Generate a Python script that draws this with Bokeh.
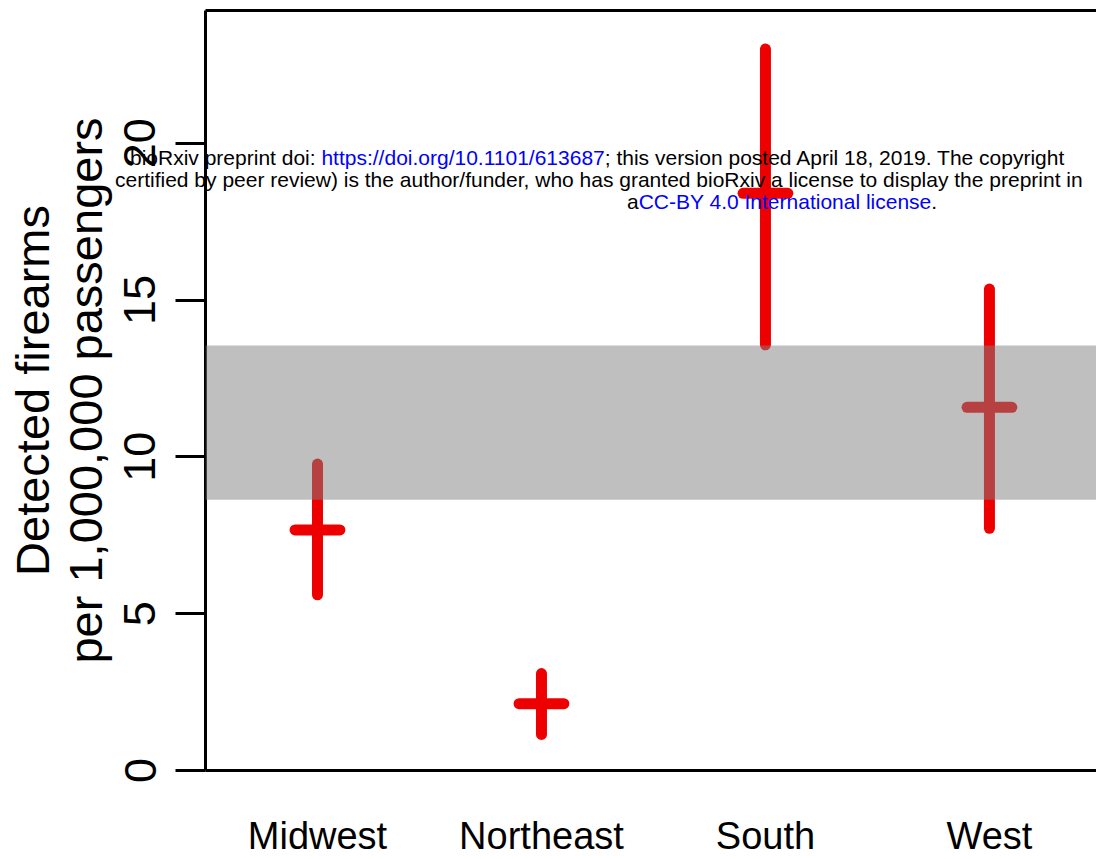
from bokeh.plotting import figure
from bokeh.layouts import column
from bokeh.models import (ColumnDataSource, FixedTicker, LinearAxis, Range1d,
                          BoxAnnotation, Div)
from bokeh.embed import file_html
from bokeh.resources import INLINE

# ---- data ----
regions = ["Midwest", "Northeast", "South", "West"]
positions = [1, 2, 3, 4]
rate = [7.67, 2.13, 18.4, 11.58]
lower = [5.6, 1.15, 13.57, 7.72]
upper = [9.77, 3.09, 23.0, 15.35]
band_low = 8.63
band_high = 13.55
y_ticks = [0, 5, 10, 15, 20]
y_title = "Detected firearms\nper 1,000,000 passengers"

header_line1 = [("bioRxiv preprint doi: ", "black"),
                ("https://doi.org/10.1101/613687", "blue"),
                ("; this version posted April 18, 2019. The copyright", "black")]
header_line2 = [("certified by peer review) is the author/funder, who has granted bioRxiv a license to display the preprint in", "black")]
header_line3 = [("a", "black"), ("CC-BY 4.0 International license", "blue"), (".", "black")]

# ---- style / layout constants ----
RED = "#ee0000"
FONT = "Liberation Sans"
W, H = 1096, 859
X0, X1 = 0.5, 4.478
Y0, Y1 = 0.0, 24.23
CROSS_HALF = 0.1

p = figure(width=W, height=H, output_backend="svg", toolbar_location=None,
           x_range=Range1d(X0, X1), y_range=Range1d(Y0, Y1),
           min_border_left=205, min_border_right=0, min_border_top=10,
           min_border_bottom=89)
p.outline_line_color = None
p.grid.visible = False
p.background_fill_color = "white"
p.border_fill_color = "white"

src = ColumnDataSource(dict(
    x=positions, lo=lower, hi=upper, m=rate,
    xl=[v - CROSS_HALF for v in positions],
    xr=[v + CROSS_HALF for v in positions],
))
p.segment(x0="x", y0="lo", x1="x", y1="hi", source=src,
          line_color=RED, line_width=11, line_cap="round")
p.segment(x0="xl", y0="m", x1="xr", y1="m", source=src,
          line_color=RED, line_width=11, line_cap="round")

# reference band drawn over the crosses
p.add_layout(BoxAnnotation(bottom=band_low, top=band_high,
                           fill_color="#808080", fill_alpha=0.5,
                           line_color=None))

# x axis
xa = p.xaxis[0]
xa.ticker = FixedTicker(ticks=positions)
xa.major_label_overrides = {k: v for k, v in zip(positions, regions)}
xa.major_tick_line_color = None
xa.major_tick_out = 0
xa.major_tick_in = 0
xa.minor_tick_line_color = None
xa.axis_line_width = 3
xa.axis_line_color = "black"
xa.major_label_text_font = FONT
xa.major_label_text_font_size = "38px"
xa.major_label_text_color = "black"
xa.major_label_standoff = 44

# y axis
ya = p.yaxis[0]
ya.ticker = FixedTicker(ticks=y_ticks)
ya.major_tick_out = 30
ya.major_tick_in = 0
ya.major_tick_line_width = 3
ya.major_tick_line_color = "black"
ya.minor_tick_line_color = None
ya.axis_line_width = 3
ya.axis_line_color = "black"
ya.major_label_orientation = "vertical"
ya.major_label_text_font = FONT
ya.major_label_text_font_size = "45px"
ya.major_label_text_color = "black"
ya.major_label_standoff = 20
ya.axis_label = y_title
ya.axis_label_text_font = FONT
ya.axis_label_text_font_size = "47px"
ya.axis_label_text_font_style = "normal"
ya.axis_label_text_color = "black"
ya.axis_label_text_line_height = 1.0
ya.axis_label_standoff = 10

# top border line
top = LinearAxis(ticker=FixedTicker(ticks=[]), axis_line_width=3,
                 axis_line_color="black", major_tick_out=0, major_tick_in=0,
                 minor_tick_out=0, minor_tick_in=0, major_label_standoff=0,
                 major_label_text_font_size="0px")
p.add_layout(top, "above")

# ---- header overlay (bioRxiv watermark), drawn on top of the chart ----
OV_LEFT, OV_TOP = 115, 147
OV_W, OV_H = W - OV_LEFT, 72


def runs(line):
    return "".join(f'<span style="color:{c}">{t}</span>' for t, c in line)


html = (
    f'<div style="font-family:\'{FONT}\';font-size:21px;line-height:22px;'
    f'white-space:nowrap;color:black;">'
    f'<div style="padding-left:15px">{runs(header_line1)}</div>'
    f'<div style="padding-left:0px">{runs(header_line2)}</div>'
    f'<div style="padding-left:512px">{runs(header_line3)}</div>'
    f'</div>'
)
ov = Div(text=html, width=OV_W, height=OV_H,
         styles={"position": "absolute", "left": f"{OV_LEFT}px",
                 "top": f"{OV_TOP}px", "z-index": "10",
                 "overflow": "hidden", "margin": "0", "padding": "0"})

layout = column(p, ov)
open("out.html", "w").write(file_html(layout, INLINE))
